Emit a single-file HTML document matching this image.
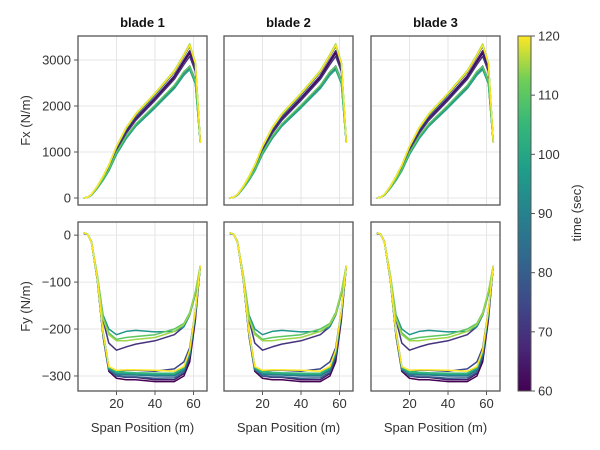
<!DOCTYPE html>
<html><head><meta charset="utf-8"><style>
body{margin:0;background:#fff}
svg{display:block;font-family:"Liberation Sans",sans-serif}
</style></head><body>
<svg id="chart" width="600" height="450">
<defs><linearGradient id="vir" x1="0" y1="1" x2="0" y2="0">
<stop offset="0" stop-color="#440154"/><stop offset="0.125" stop-color="#482878"/><stop offset="0.25" stop-color="#3e4a89"/><stop offset="0.375" stop-color="#31688e"/><stop offset="0.5" stop-color="#26828e"/><stop offset="0.625" stop-color="#1f9e89"/><stop offset="0.75" stop-color="#35b779"/><stop offset="0.875" stop-color="#6ece58"/><stop offset="1" stop-color="#fde725"/></linearGradient></defs>
</svg>
<script>
const span=[3,5,7,10,13,16,20,25,30,40,50,55,58,61,63.5];
const times=[60,65,70,75,80,85,90,95,100,105,110,115,120];
const fx60=[0,15,70,230,420,650,1050,1430,1720,2150,2620,2960,3150,2800,1200];
const fx65=[0,15,72,235,430,665,1070,1450,1740,2180,2660,3000,3200,2830,1200];
const fx70=[0,15,70,228,415,640,1030,1400,1690,2120,2580,2900,3080,2750,1200];
const fx75=[0,15,66,220,400,610,980,1330,1600,2010,2440,2740,2870,2560,1200];
const fx80=[0,15,75,245,450,695,1100,1490,1790,2240,2730,3080,3300,2900,1200];
const fx85=[0,15,65,215,390,595,960,1300,1570,1980,2400,2690,2820,2500,1200];
const fx90=[0,15,64,212,385,590,950,1290,1560,1960,2380,2670,2800,2480,1200];
const fx95=[0,15,77,250,460,705,1115,1510,1810,2260,2750,3100,3330,2920,1200];
const fx100=[0,15,64,213,388,592,955,1295,1565,1970,2390,2680,2790,2490,1200];
const fx105=[0,15,78,252,465,710,1120,1520,1820,2270,2760,3110,3340,2930,1200];
const fx110=[0,15,67,222,405,615,990,1340,1610,2020,2450,2750,2860,2540,1200];
const fx115=[0,15,79,255,470,715,1125,1530,1830,2280,2770,3120,3350,2940,1200];
const fx120=[0,15,78,253,466,712,1120,1520,1820,2270,2750,3100,3320,2920,1200];
const fy60=[5,2,-15,-95,-215,-290,-305,-308,-308,-312,-312,-300,-270,-180,-65];
const fy65=[4,2,-14,-92,-210,-286,-300,-303,-303,-308,-308,-295,-262,-172,-65];
const fy70=[5,2,-15,-90,-180,-230,-245,-238,-232,-225,-212,-195,-170,-125,-65];
const fy75=[3,2,-14,-92,-205,-280,-290,-288,-288,-290,-285,-270,-240,-160,-65];
const fy80=[5,2,-15,-94,-212,-287,-300,-302,-302,-305,-304,-292,-258,-170,-65];
const fy85=[5,2,-15,-93,-210,-285,-297,-298,-298,-300,-300,-288,-255,-168,-65];
const fy90=[4,2,-14,-93,-211,-285,-295,-296,-297,-298,-298,-285,-252,-165,-65];
const fy95=[5,2,-15,-85,-170,-200,-212,-205,-203,-206,-205,-195,-170,-125,-65];
const fy100=[5,2,-15,-93,-210,-283,-293,-294,-295,-296,-296,-284,-250,-165,-65];
const fy105=[5,2,-15,-92,-208,-281,-290,-292,-293,-294,-294,-282,-248,-162,-65];
const fy110=[5,2,-15,-87,-175,-208,-222,-218,-216,-212,-200,-188,-165,-120,-65];
const fy115=[5,2,-15,-86,-178,-212,-225,-225,-222,-218,-205,-190,-168,-122,-65];
const fy120=[5,2,-15,-92,-208,-280,-288,-287,-287,-288,-290,-280,-245,-160,-65];
const fxData=[fx60,fx65,fx70,fx75,fx80,fx85,fx90,fx95,fx100,fx105,fx110,fx115,fx120];
const fyData=[fy60,fy65,fy70,fy75,fy80,fy85,fy90,fy95,fy100,fy105,fy110,fy115,fy120];
const blades=["blade 1","blade 2","blade 3"];
const xTicks=[20,40,60];
const fxTicks=[0,1000,2000,3000];
const fyTicks=[0,-100,-200,-300];
const cbTicks=[60,70,80,90,100,110,120];

const NS="http://www.w3.org/2000/svg";
const svg=document.getElementById("chart");
function mk(tag,attrs,parent){const e=document.createElementNS(NS,tag);for(const k in attrs)e.setAttribute(k,attrs[k]);(parent||svg).appendChild(e);return e;}
const stops=[[68,1,84],[72,40,120],[62,74,137],[49,104,142],[38,130,142],[31,158,137],[53,183,121],[110,206,88],[253,231,37]];
function viridis(t){const f=Math.max(0,Math.min(1,t))*8;const i=Math.min(7,Math.floor(f));const r=f-i;const a=stops[i],b=stops[i+1];return `rgb(${a.map((v,k)=>Math.round(v+(b[k]-v)*r)).join(',')})`;}
const panelX=[78,224,371],PW=129;
const rows=[{y0:36,y1:205,dmin:-152,dmax:3522,ticks:fxTicks,data:fxData,lab:"Fx (N/m)",name:"fx"},
            {y0:222,y1:391,dmin:-332,dmax:28,ticks:fyTicks,data:fyData,lab:"Fy (N/m)",name:"fy"}];
const xMin=0,xMax=67;
rows.forEach((row,ri)=>{
  const ys=v=>row.y1-(v-row.dmin)/(row.dmax-row.dmin)*(row.y1-row.y0);
  panelX.forEach((px,bi)=>{
    const xs=v=>px+(v-xMin)/(xMax-xMin)*PW;
    const g=mk("g",{});
    
    
    xTicks.forEach(t=>{const l=mk("line",{x1:xs(t),x2:xs(t),y1:row.y0,y2:row.y1,stroke:"#e6e6e6","stroke-width":1},g);});
    row.ticks.forEach(t=>{const l=mk("line",{x1:px,x2:px+PW,y1:ys(t),y2:ys(t),stroke:"#e6e6e6","stroke-width":1},g);});
    row.data.forEach((arr,si)=>{
      const d=arr.map((v,i)=>(i?"L":"M")+xs(span[i]).toFixed(1)+","+ys(v).toFixed(1)).join("");
      const p=mk("path",{d:d,fill:"none",stroke:viridis((times[si]-60)/60),"stroke-width":1.5,"stroke-linejoin":"round"},g);
      
      
    });
    const fr=mk("rect",{x:px,y:row.y0,width:PW,height:row.y1-row.y0,fill:"none",stroke:"#555","stroke-width":1.3},g);
    
    if(bi===0){row.ticks.forEach(t=>{mk("line",{x1:px-4,x2:px,y1:ys(t),y2:ys(t),stroke:"#555"},g);const tx=mk("text",{x:px-7,y:ys(t)+4.5,"text-anchor":"end","font-size":13,fill:"#333"},g);tx.textContent=(t<0?"\u2212"+(-t):t);});}
    if(ri===1){xTicks.forEach(t=>{mk("line",{x1:xs(t),x2:xs(t),y1:row.y1,y2:row.y1+4,stroke:"#555"},g);const tx=mk("text",{x:xs(t),y:row.y1+17,"text-anchor":"middle","font-size":13,fill:"#333"},g);tx.textContent=t;});
      const xl=mk("text",{x:px+PW/2,y:432,"text-anchor":"middle","font-size":13,fill:"#333"},g);xl.textContent="Span Position (m)";}
    if(ri===0){const tt=mk("text",{x:px+PW/2,y:27,"text-anchor":"middle","font-size":13,"font-weight":"bold",fill:"#111"},g);tt.textContent=blades[bi];}
  });
  const cy=(row.y0+row.y1)/2;
  const yl=mk("text",{x:0,y:0,transform:`translate(30,${cy}) rotate(-90)`,"text-anchor":"middle","font-size":13,fill:"#333"});
  yl.textContent=row.lab;
});
const cb=mk("rect",{x:518,y:36,width:13,height:355,fill:"url(#vir)",stroke:"#555","stroke-width":1});

cbTicks.forEach(t=>{const y=391-(t-60)/60*355;mk("line",{x1:531,x2:535,y1:y,y2:y,stroke:"#555"});const tx=mk("text",{x:538,y:y+4.5,"font-size":13,fill:"#333"});tx.textContent=t;});
const cl=mk("text",{x:0,y:0,transform:"translate(581,213) rotate(-90)","text-anchor":"middle","font-size":13,fill:"#333"});
cl.textContent="time (sec)";
</script>
</body></html>
